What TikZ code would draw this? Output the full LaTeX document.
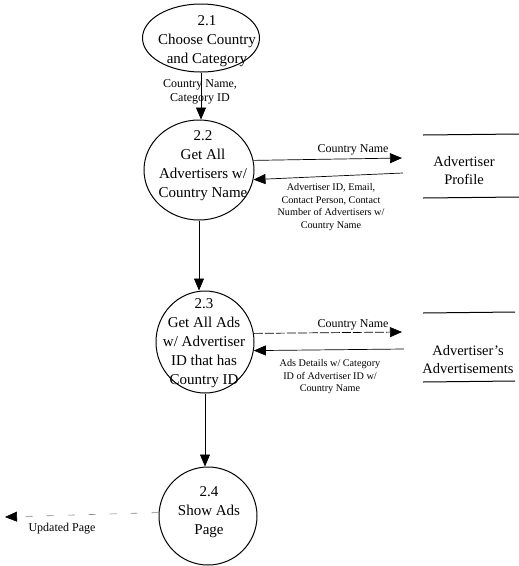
\documentclass[tikz,border=0pt]{standalone}
\usepackage{fontspec}
\setmainfont{Liberation Serif}
\usetikzlibrary{arrows.meta,shapes.geometric}
\begin{document}
\begin{tikzpicture}[x=1pt,y=-1pt,
  proc/.style={draw,ellipse,line width=1pt,inner sep=0pt},
  ptext/.style={align=center,font=\fontsize{15}{19}\selectfont,inner sep=0pt},
  flow/.style={line width=0.7pt,-{Triangle[length=12pt,width=10pt]}},
  flab/.style={align=center,font=\fontsize{10.2}{12.5}\selectfont,inner sep=0pt},
  flabbig/.style={align=center,font=\fontsize{12}{14}\selectfont,inner sep=0pt},
  store/.style={line width=1pt},
  stext/.style={align=center,font=\fontsize{14.5}{18}\selectfont,inner sep=0pt}]
\useasboundingbox (0,0) rectangle (519,566);

% processes
\node[proc,minimum width=117pt,minimum height=68pt] (p21) at (201,38) {};
\node[ptext] (t21) at (207,41) {2.1\\Choose Country\\and Category};

\node[proc,minimum width=110pt,minimum height=100pt] (p22) at (199,170) {};
\node[ptext] (t22) at (203,166) {2.2\\Get All\\Advertisers w/\\Country Name};

\node[proc,minimum width=98pt,minimum height=102pt] (p23) at (205,342) {};
\node[ptext] (t23) at (204,343) {2.3\\Get All Ads\\w/ Advertiser\\ID that has\\Country ID};

\node[proc,minimum width=98pt,minimum height=98pt] (p24) at (208,516) {};
\node[ptext] (t24) at (209,512) {2.4\\Show Ads\\Page};

% data stores
\draw[store] (423,135) -- (519,134);
\draw[store] (423,198) -- (519,197);
\node[stext] (s1) at (464,171) {Advertiser\\Profile};

\draw[store] (423,313) -- (515,312);
\draw[store] (423,382) -- (515,381);
\node[stext] (s2) at (468,360) {Advertiser's\\Advertisements};

% flow end points at the stores and the page output
\coordinate (s1in) at (402,158);
\coordinate (s1out) at (403,173);
\coordinate (s2in) at (402,332);
\coordinate (s2out) at (404,349);
\coordinate (upd) at (5,517);

% flows
\draw[flow] (p21.south) -- (p21.south |- p22.north);
\node[flabbig] (l21) at (200,92) {Country Name,\\Category ID};

\draw[flow] (p22.south) -- (p22.south |- p23.north);
\draw[flow] (p23.south) -- (p23.south |- p24.north);

\draw[flow] (p22.10) -- (s1in);
\node[flabbig] (l22a) at (353,150) {Country Name};
\draw[flow] (s1out) -- (p22.-10);
\node[flab] (l22b) at (331,207) {Advertiser ID, Email,\\Contact Person, Contact\\Number of Advertisers w/\\Country Name};

\draw[flow,dash pattern=on 9pt off 2pt] (p23.10) -- (s2in);
\node[flabbig] (l23a) at (353,325) {Country Name};
\draw[flow] (s2out) -- (p23.-10);
\node[flab] (l23b) at (330,377) {Ads Details w/ Category\\ID of Advertiser ID w/\\Country Name};

\draw[line width=0.6pt,gray,dash pattern=on 7pt off 14pt,
  -{Triangle[length=12pt,width=10pt,black]}] (p24.176) -- (upd);
\node[flabbig] (l24) at (62,529) {Updated Page};
\end{tikzpicture}
\end{document}
